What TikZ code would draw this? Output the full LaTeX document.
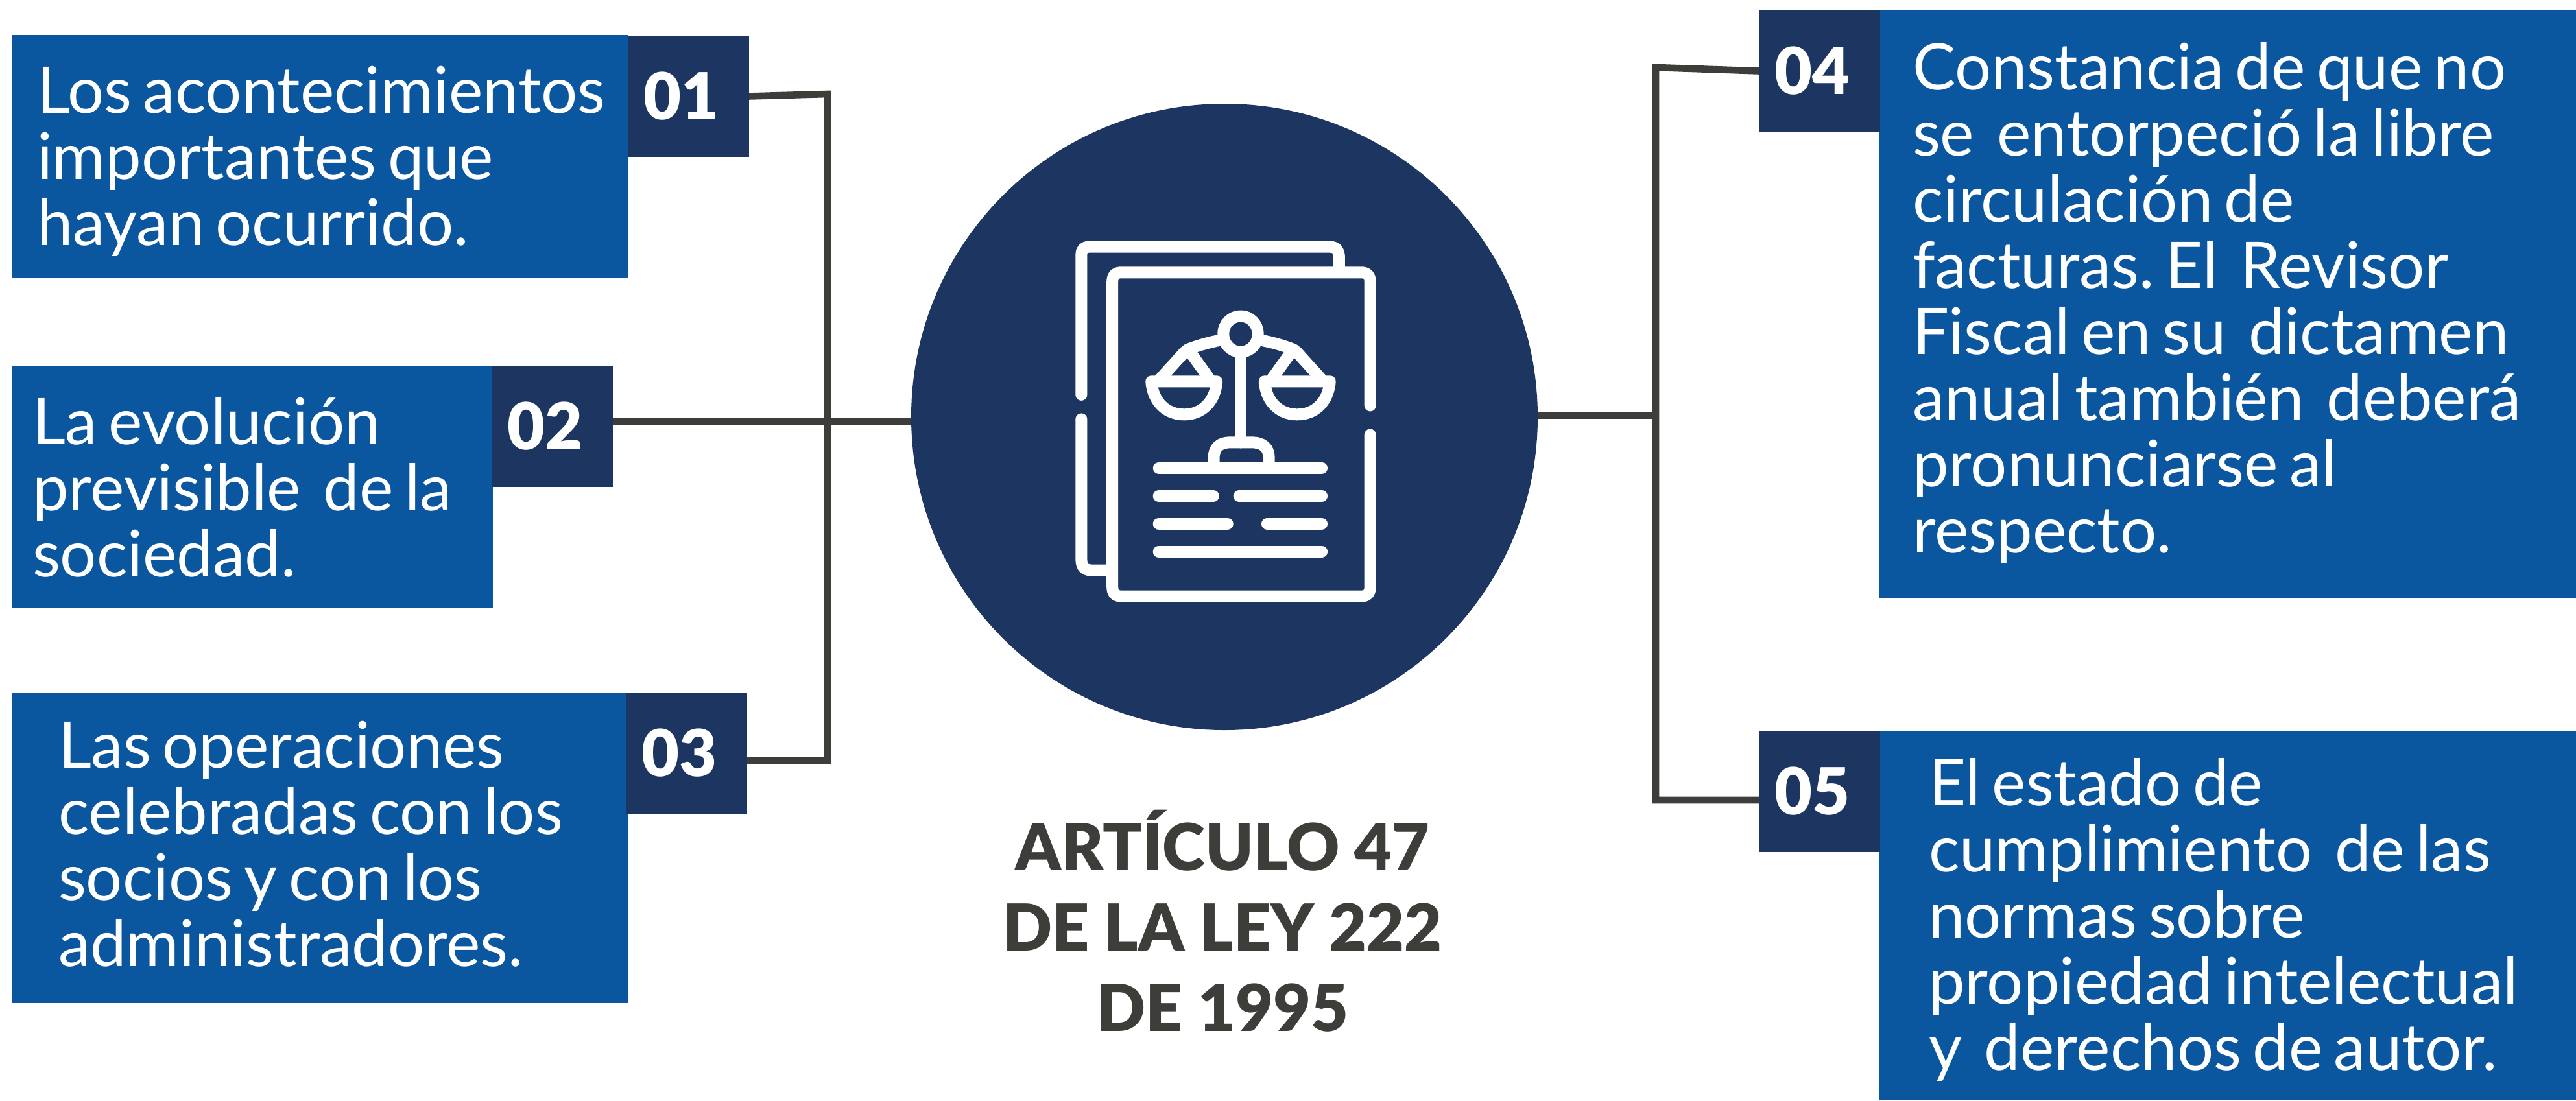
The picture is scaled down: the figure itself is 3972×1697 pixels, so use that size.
\documentclass[tikz,border=0pt]{standalone}
\usepackage{fontspec}
\setmainfont{Lato}
\newfontfamily\heavy{Lato Black}
\definecolor{boxblue}{HTML}{0A579F}
\definecolor{navy}{HTML}{1D3661}
\definecolor{wirecol}{HTML}{3D3D3A}
\newcommand{\inset}[1]{\leftskip=#1\relax\spaceskip=.175em\relax\xspaceskip=.175em\relax}
\tikzset{
  txtbox/.style={fill=boxblue,text=white,anchor=north west,align=left,inner sep=0pt,outer sep=0pt,
    font=\fontsize{49.6}{51}\selectfont},
  numbox/.style={fill=navy,text=white,anchor=north west,minimum width=93.5pt,minimum height=93.5pt,inner sep=0pt,outer sep=0pt,
    font=\fontsize{50}{50}\selectfont\heavy},
  wire/.style={draw=wirecol,line width=5.3pt,line join=miter},
  hubnode/.style={circle,fill=navy,minimum size=483pt,inner sep=0pt,outer sep=0pt},
  titlenode/.style={text=wirecol,align=center,font=\fontsize{50}{62}\selectfont\heavy},
  ico/.style={draw=white,line width=9pt,line cap=round,line join=round}
}
\begin{document}
\begin{tikzpicture}[x=0.5pt,y=-0.5pt]
\useasboundingbox (0,0) rectangle (3972,1697);
% joints
\coordinate (lt) at (1276,145);
\coordinate (lm) at (1276,650);
\coordinate (lb) at (1276,1173);
\coordinate (rt) at (2553,104);
\coordinate (rm) at (2553,641);
\coordinate (rb) at (2553,1234);
% central hub
\node[hubnode] (hub) at (1888,643) {};
% text boxes
\node[txtbox,minimum width=474.5pt,minimum height=187pt,text width=474.5pt] (t1) at (19,54)
  {\inset{19pt}Los acontecimientos\\importantes que\\hayan ocurrido.\par\vspace*{-7.6pt}};
\node[txtbox,minimum width=370.5pt,minimum height=186pt,text width=370.5pt] (t2) at (19,565)
  {\inset{15.5pt}La evolución\\previsible\ \ de la\\sociedad.\par};
\node[txtbox,minimum width=474.5pt,minimum height=238.75pt,text width=474.5pt] (t3) at (19,1069)
  {\inset{35.5pt}Las operaciones\\celebradas con los\\socios y con los\\administradores.\par\vspace*{6.3pt}};
\node[txtbox,minimum width=537pt,minimum height=453pt,text width=537pt] (t4) at (2898,16)
  {\inset{25.5pt}Constancia de que no\\se\ \ entorpeció la libre\\circulación de\\facturas. El\ \ Revisor\\Fiscal en su\ \ dictamen\\anual también\ \ deberá\\pronunciarse al\\respecto.\par\vspace*{1.3pt}};
\node[txtbox,minimum width=537pt,minimum height=285pt,text width=537pt] (t5) at (2898,1127)
  {\inset{38pt}El estado de\\cumplimiento\ \ de las\\normas sobre\\propiedad intelectual\\y\ \ derechos de autor.\par\vspace*{-6.3pt}};
% number boxes
\node[numbox] (n1) at (968,55) {\hspace*{-11pt}01};
\node[numbox] (n2) at (758,564) {\hspace*{-11pt}02};
\node[numbox] (n3) at (965,1068) {\hspace*{-11pt}03};
\node[numbox] (n4) at (2712,16) {\hspace*{-11pt}04};
\node[numbox] (n5) at (2712,1127) {\hspace*{-11pt}05};
% connectors
\draw[wire] (n1.east) -- (lt) -- (lb) -- (n3.east |- lb);
\draw[wire] (n2.east |- lm) -- (hub.west |- lm);
\draw[wire] (n4.west) -- (rt) -- (rb) -- (n5.west |- rb);
\draw[wire] (hub.east |- rm) -- (rm);
% title
\node[titlenode] (title) at (1885,1420) {ARTÍCULO 47\\DE LA LEY 222\\DE 1995};
% icon
\begin{scope}[shift={(1600,340)},x=0.1913pt,y=-0.1977pt]
  \draw[ico] (176,680) -- (176,135) .. controls (176,115) and (185,103) .. (205,103) -- (1180,103) .. controls (1205,103) and (1215,120) .. (1215,145) -- (1215,180);
  \draw[ico] (176,775) -- (176,1320) .. controls (176,1355) and (190,1365) .. (225,1365) -- (285,1365);
  \draw[ico] (1340,722) -- (1340,240) .. controls (1340,215) and (1328,203) .. (1303,203) -- (338,203) .. controls (313,203) and (301,215) .. (301,240) -- (301,1429) .. controls (301,1454) and (313,1466) .. (338,1466) -- (1303,1466) .. controls (1328,1466) and (1340,1454) .. (1340,1429) -- (1340,836);
  % scale
  \draw[ico] (818,443) circle (70);
  \draw[ico] (818,515) -- (818,866);
  \draw[ico] (710,965) -- (710,925) .. controls (710,885) and (735,866) .. (775,866) -- (865,866) .. controls (905,866) and (932,885) .. (932,925) -- (932,965);
  \foreach \yy/\xa/\xb in {965/488/1145,1075/488/708,1075/812/1145,1183/488/765,1183/925/1145,1292/488/1145}
    \draw[ico] (\xa,\yy) -- (\xb,\yy);
  % left pan
  \draw[ico] (730,468) .. controls (680,478) and (640,490) .. (605,503) -- (590,515) -- (490,622);
  \draw[ico] (612,510) -- (695,622);
  \draw[ico] (458,628) -- (722,628) .. controls (715,710) and (660,757) .. (590,757) .. controls (520,757) and (465,710) .. (458,628) -- cycle;
  % right pan
  \draw[ico] (906,468) .. controls (956,478) and (996,490) .. (1031,503) -- (1046,515) -- (1146,622);
  \draw[ico] (1024,510) -- (941,622);
  \draw[ico] (1178,628) -- (914,628) .. controls (921,710) and (976,757) .. (1046,757) .. controls (1116,757) and (1171,710) .. (1178,628) -- cycle;
\end{scope}
\end{tikzpicture}
\end{document}
